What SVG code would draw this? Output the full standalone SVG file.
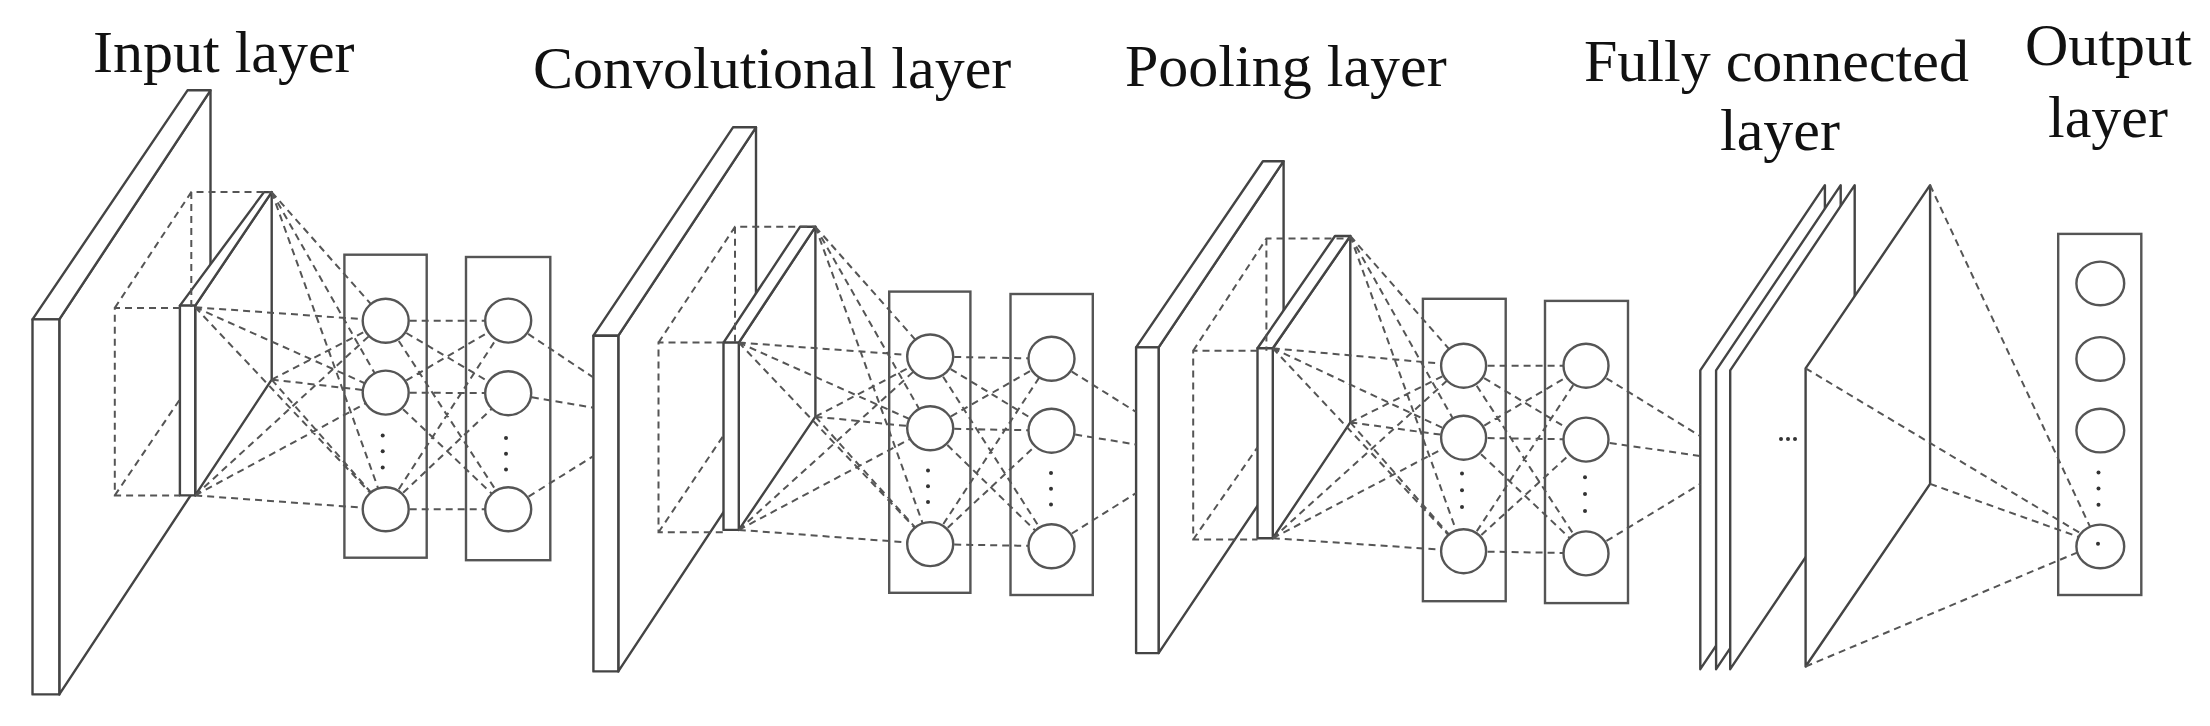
<svg xmlns="http://www.w3.org/2000/svg" width="2210" height="726" viewBox="0 0 2210 726">
<style>
.s{fill:#fff;stroke:#444;stroke-width:2.4;stroke-linejoin:round}
.b{fill:none;stroke:#555;stroke-width:2.4}
.d{fill:none;stroke:#555;stroke-width:2;stroke-dasharray:7 5}
.n{fill:#fff;stroke:#555;stroke-width:2.4}
.dot{fill:#333}
.t{font-family:"Liberation Serif","Times New Roman",serif;font-size:60px;fill:#111}
</style>
<rect width="2210" height="726" fill="#fff"/>
<g id="labels">
<text class="t" x="93" y="72">Input layer</text>
<text class="t" x="533" y="88">Convolutional layer</text>
<text class="t" x="1125" y="86">Pooling layer</text>
<text class="t" x="1584" y="81">Fully connected</text>
<text class="t" x="1720" y="150">layer</text>
<text class="t" x="2025" y="65">Output</text>
<text class="t" x="2048" y="137">layer</text>
</g>
<g id="input-layer">
<polygon class="s" points="59.3,319.4 210.5,90.3 210.5,465.3 59.3,694.4"/>
<polygon class="s" points="32.5,319.4 187.5,90.3 210.5,90.3 59.3,319.4"/>
<rect class="s" x="32.5" y="319.4" width="26.8" height="375"/>
</g>
<g id="conv-slab">
<polygon class="s" points="618.3,335.7 756,127.3 756,463 618.3,671.4"/>
<polygon class="s" points="593.4,335.7 733,127.3 756,127.3 618.3,335.7"/>
<rect class="s" x="593.4" y="335.7" width="24.9" height="335.7"/>
</g>
<g id="pool-slab">
<polygon class="s" points="1158.6,347.4 1283.6,161.2 1283.6,466.9 1158.6,653.1"/>
<polygon class="s" points="1136.1,347.4 1262.9,161.2 1283.6,161.2 1158.6,347.4"/>
<rect class="s" x="1136.1" y="347.4" width="22.5" height="305.7"/>
</g>
<g id="kernels">
<polygon class="s" points="195.2,305.6 271.7,192.1 271.7,379.6 195.2,495.4"/>
<polygon class="s" points="179.9,305.6 264,192.1 271.7,192.1 195.2,305.6"/>
<rect class="s" x="179.9" y="305.6" width="15.3" height="189.8"/>
<polygon class="s" points="738.8,342.6 815.4,226.8 815.4,416.7 738.8,529.9"/>
<polygon class="s" points="723.5,342.6 800,226.8 815.4,226.8 738.8,342.6"/>
<rect class="s" x="723.5" y="342.6" width="15.3" height="187.3"/>
<polygon class="s" points="1272.8,348.3 1350.3,236 1350.3,422.4 1272.8,538.2"/>
<polygon class="s" points="1257.5,348.3 1335,236 1350.3,236 1272.8,348.3"/>
<rect class="s" x="1257.5" y="348.3" width="15.3" height="189.9"/>
</g>
<g id="fc-layer">
<polygon class="s" points="1700.3,370.4 1824.9,185.2 1824.9,484.4 1700.3,669.2"/>
<polygon class="s" points="1716.1,370.4 1840.7,185.2 1840.7,484.4 1716.1,669.2"/>
<polygon class="s" points="1730.2,370.4 1854.7,185.2 1854.7,484.4 1730.2,669.2"/>
<polygon class="s" points="1805.6,368.3 1930.1,185.2 1930.1,483.9 1805.6,666.5"/>
<circle class="dot" cx="1781" cy="439" r="2"/><circle class="dot" cx="1788" cy="439" r="2"/><circle class="dot" cx="1795" cy="439" r="2"/>
</g>
<g id="boxes">
<rect class="b" x="344.4" y="254.7" width="82.3" height="303"/>
<rect class="b" x="466" y="257" width="84.3" height="303.2"/>
<rect class="b" x="889.2" y="291.6" width="81.2" height="301.2"/>
<rect class="b" x="1010.5" y="294" width="82.3" height="301"/>
<rect class="b" x="1422.9" y="298.8" width="82.8" height="302.4"/>
<rect class="b" x="1545" y="300.9" width="83" height="302.2"/>
<rect class="b" x="2058.2" y="233.9" width="83.1" height="361.1"/>
</g>
<g id="connectors" class="d">
<path d="M180,307.9H114.8V495.4H180M114.8,307.9L191.3,192.1H271.7M191.3,192.1V307.9M114.8,495.4L180,399.2"/>
<path d="M723.5,342.6H658.5V532.3H723.5M658.5,342.6L735,226.8H815.4M735,226.8V342.6M658.5,532.3L723.5,435.5"/>
<path d="M1257.5,350.7H1193.2V539.5H1257.5M1193.2,350.7L1266.4,238.6H1350.3M1266.4,238.6V350.7M1193.2,539.5L1257.5,447.4"/>
<path d="M271.7,192.1L385.7,320.8M271.7,192.1L385.7,392.6M271.7,192.1L385.7,509.3M271.7,379.6L385.7,320.8M271.7,379.6L385.7,392.6M271.7,379.6L385.7,509.3M195.2,307.3L385.7,320.8M195.2,307.3L385.7,392.6M195.2,307.3L385.7,509.3M195.2,495.4L385.7,320.8M195.2,495.4L385.7,392.6M195.2,495.4L385.7,509.3"/>
<path d="M385.7,320.8L508.2,320.6M385.7,320.8L508.2,393.2M385.7,320.8L508.2,509.3M385.7,392.6L508.2,320.6M385.7,392.6L508.2,393.2M385.7,392.6L508.2,509.3M385.7,509.3L508.2,320.6M385.7,509.3L508.2,393.2M385.7,509.3L508.2,509.3"/>
<path d="M508.2,320.6L593.4,377.5M508.2,393.2L593.4,407.7M508.2,509.3L593.4,456.1"/>
<path d="M815.4,226.8L930.2,356.5M815.4,226.8L930.2,428.3M815.4,226.8L930.2,544.1M815.4,416.7L930.2,356.5M815.4,416.7L930.2,428.3M815.4,416.7L930.2,544.1M738.8,342.6L930.2,356.5M738.8,342.6L930.2,428.3M738.8,342.6L930.2,544.1M738.8,529.9L930.2,356.5M738.8,529.9L930.2,428.3M738.8,529.9L930.2,544.1"/>
<path d="M930.2,356.5L1051.5,358.8M930.2,356.5L1051.5,430.7M930.2,356.5L1051.5,546.3M930.2,428.3L1051.5,358.8M930.2,428.3L1051.5,430.7M930.2,428.3L1051.5,546.3M930.2,544.1L1051.5,358.8M930.2,544.1L1051.5,430.7M930.2,544.1L1051.5,546.3"/>
<path d="M1051.5,358.8L1136.1,412M1051.5,430.7L1136.1,444.5M1051.5,546.3L1136.1,493.1"/>
<path d="M1350.3,236L1463.6,365.7M1350.3,236L1463.6,437.7M1350.3,236L1463.6,551.2M1350.3,422.4L1463.6,365.7M1350.3,422.4L1463.6,437.7M1350.3,422.4L1463.6,551.2M1272.8,348.3L1463.6,365.7M1272.8,348.3L1463.6,437.7M1272.8,348.3L1463.6,551.2M1272.8,538.2L1463.6,365.7M1272.8,538.2L1463.6,437.7M1272.8,538.2L1463.6,551.2"/>
<path d="M1463.6,365.7L1586,365.7M1463.6,365.7L1586,439.6M1463.6,365.7L1586,553.4M1463.6,437.7L1586,365.7M1463.6,437.7L1586,439.6M1463.6,437.7L1586,553.4M1463.6,551.2L1586,365.7M1463.6,551.2L1586,439.6M1463.6,551.2L1586,553.4"/>
<path d="M1586,365.7L1700.3,436.2M1586,439.6L1700.3,456M1586,553.4L1700.3,483.9"/>
<path d="M1930.1,185.2L2098,543.8M1805.6,368.3L2098,543.8M1930.1,483.9L2098,543.8M1805.6,666.5L2098,543.8"/>
</g>
<g id="neurons">
<ellipse class="n" cx="385.7" cy="320.8" rx="23" ry="22"/><ellipse class="n" cx="385.7" cy="392.6" rx="23" ry="22"/><ellipse class="n" cx="385.7" cy="509.3" rx="23" ry="22"/>
<ellipse class="n" cx="508.2" cy="320.6" rx="23" ry="22"/><ellipse class="n" cx="508.2" cy="393.2" rx="23" ry="22"/><ellipse class="n" cx="508.2" cy="509.3" rx="23" ry="22"/>
<ellipse class="n" cx="930.2" cy="356.5" rx="23" ry="22"/><ellipse class="n" cx="930.2" cy="428.3" rx="23" ry="22"/><ellipse class="n" cx="930.2" cy="544.1" rx="23" ry="22"/>
<ellipse class="n" cx="1051.5" cy="358.8" rx="23" ry="22"/><ellipse class="n" cx="1051.5" cy="430.7" rx="23" ry="22"/><ellipse class="n" cx="1051.5" cy="546.3" rx="23" ry="22"/>
<ellipse class="n" cx="1463.6" cy="365.7" rx="22.5" ry="22"/><ellipse class="n" cx="1463.6" cy="437.7" rx="22.5" ry="22"/><ellipse class="n" cx="1463.6" cy="551.2" rx="22.5" ry="22"/>
<ellipse class="n" cx="1586" cy="365.7" rx="22.5" ry="22"/><ellipse class="n" cx="1586" cy="439.6" rx="22.5" ry="22"/><ellipse class="n" cx="1586" cy="553.4" rx="22.5" ry="22"/>
<ellipse class="n" cx="2100.3" cy="283.4" rx="23.9" ry="21.8"/><ellipse class="n" cx="2100.3" cy="358.9" rx="23.9" ry="21.8"/><ellipse class="n" cx="2100.3" cy="430.6" rx="23.9" ry="21.8"/>
<ellipse class="n" cx="2100.3" cy="546.4" rx="23.9" ry="21.8" fill="none"/>
</g>
<g id="dots" class="dot">
<circle cx="382.7" cy="435.5" r="2"/><circle cx="382.7" cy="451.3" r="2"/><circle cx="382.7" cy="467.6" r="2"/>
<circle cx="506" cy="438" r="2"/><circle cx="506" cy="453.7" r="2"/><circle cx="506" cy="469.4" r="2"/>
<circle cx="928" cy="470.6" r="2"/><circle cx="928" cy="486.3" r="2"/><circle cx="928" cy="502" r="2"/>
<circle cx="1051" cy="473" r="2"/><circle cx="1051" cy="488.8" r="2"/><circle cx="1051" cy="504.5" r="2"/>
<circle cx="1462" cy="473.4" r="2"/><circle cx="1462" cy="490.2" r="2"/><circle cx="1462" cy="507.1" r="2"/>
<circle cx="1585" cy="477.3" r="2"/><circle cx="1585" cy="494.1" r="2"/><circle cx="1585" cy="511" r="2"/>
<circle cx="2098.5" cy="472.5" r="2"/><circle cx="2098.5" cy="488.4" r="2"/><circle cx="2098.5" cy="504.7" r="2"/>
<circle cx="2098" cy="543.8" r="2"/>
</g>
</svg>
